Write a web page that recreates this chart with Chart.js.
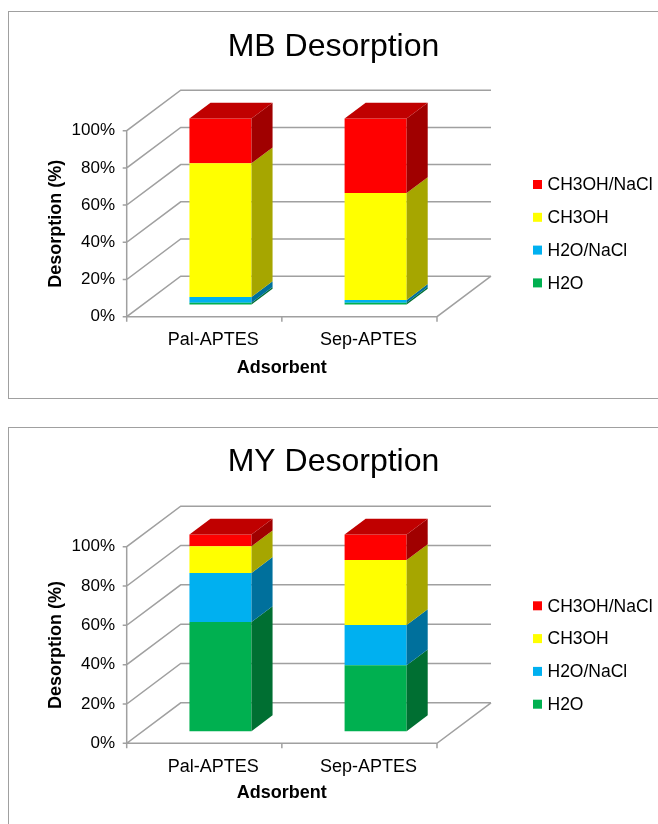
<!DOCTYPE html>
<html>
<head>
<meta charset="utf-8">
<script src="https://cdn.jsdelivr.net/npm/chart.js@4.4.1/dist/chart.umd.min.js"></script>
<style>
  html, body { margin: 0; padding: 0; background: #fff; width: 658px; height: 824px; overflow: hidden; position: relative; }
  .frame { position: absolute; left: 8px; width: 700px; border: 1.5px solid #a0a0a0; box-sizing: border-box; }
  #frame1 { top: 11px; height: 388px; }
  #frame2 { top: 427px; height: 420px; }
  canvas { position: absolute; left: 0; }
  #mb { top: 0; }
  #my { top: 410px; }
</style>
</head>
<body>
<div class="frame" id="frame1"></div>
<div class="frame" id="frame2"></div>
<canvas id="mb" width="658" height="400"></canvas>
<canvas id="my" width="658" height="414"></canvas>
<script>
// ---- data -------------------------------------------------------------
const categories = ['Pal-APTES', 'Sep-APTES'];
const seriesNames = ['H2O', 'H2O/NaCl', 'CH3OH', 'CH3OH/NaCl'];
const yTicks = [0, 20, 40, 60, 80, 100];

// MB desorption share per eluent (%), bottom segment first
const mbH2O = [1, 1];
const mbH2ONaCl = [3, 1.5];
const mbCH3OH = [72, 57.5];
const mbCH3OHNaCl = [24, 40];

// MY desorption share per eluent (%)
const myH2O = [55.5, 33.5];
const myH2ONaCl = [25, 20.5];
const myCH3OH = [13.5, 33];
const myCH3OHNaCl = [6, 13];

// ---- styling ----------------------------------------------------------
const FONT = "'Liberation Sans', Arial, Helvetica, sans-serif";
const faceColors = ['#00B050', '#00B0F0', '#FFFF00', '#FF0000'];
const sideColors = ['#006F32', '#00709C', '#A6A600', '#A00000'];
const capColor = '#C00000';
const gridColor = '#a0a0a0';

// oblique depth of the plot box and of the bar prisms
const WALL_DX = 54, WALL_DY = 40.5;
const BAR_FRONT = 0.3, BAR_DEPTH = 0.39;

Chart.defaults.font.family = FONT;
Chart.defaults.color = '#000';

// walls, floor and axis lines, then prism sides after the bar fronts
const depthPlugin = {
  id: 'depthBox',
  beforeDatasetsDraw(chart) {
    const { ctx, chartArea: a, scales: { y } } = chart;
    ctx.save();
    ctx.strokeStyle = gridColor;
    ctx.lineWidth = 1.5;
    ctx.beginPath();
    y.ticks.forEach(t => {
      const py = y.getPixelForValue(t.value);
      ctx.moveTo(a.left - 4, py);
      ctx.lineTo(a.left, py);
      ctx.lineTo(a.left + WALL_DX, py - WALL_DY);
      ctx.lineTo(a.right + WALL_DX, py - WALL_DY);
    });
    ctx.moveTo(a.left, y.getPixelForValue(yTicks[yTicks.length - 1]));
    ctx.lineTo(a.left, a.bottom + 5);
    ctx.moveTo(a.left, a.bottom);
    ctx.lineTo(a.right, a.bottom);
    ctx.lineTo(a.right + WALL_DX, a.bottom - WALL_DY);
    const n = categories.length;
    for (let k = 1; k <= n; k++) {
      const px = a.left + (a.right - a.left) * k / n;
      ctx.moveTo(px, a.bottom);
      ctx.lineTo(px, a.bottom + 5);
    }
    ctx.stroke();
    ctx.restore();

    // bar fronts sit part-way into the box
    ctx.save();
    ctx.translate(WALL_DX * BAR_FRONT, -WALL_DY * BAR_FRONT);
  },
  afterDatasetsDraw(chart) {
    const { ctx } = chart;
    const bdx = WALL_DX * BAR_DEPTH, bdy = WALL_DY * BAR_DEPTH;
    const last = chart.data.datasets.length - 1;
    chart.data.datasets.forEach((ds, d) => {
      const meta = chart.getDatasetMeta(d);
      meta.data.forEach(bar => {
        const { x, y, base, width } = bar.getProps(['x', 'y', 'base', 'width'], true);
        const l = x - width / 2, r = x + width / 2;
        const top = Math.min(y, base), bottom = Math.max(y, base);
        if (bottom - top <= 0) return;
        ctx.fillStyle = sideColors[d];
        ctx.beginPath();
        ctx.moveTo(r, top);
        ctx.lineTo(r + bdx, top - bdy);
        ctx.lineTo(r + bdx, bottom - bdy);
        ctx.lineTo(r, bottom);
        ctx.closePath();
        ctx.fill();
        if (d === last) {
          ctx.fillStyle = capColor;
          ctx.beginPath();
          ctx.moveTo(l, top);
          ctx.lineTo(l + bdx, top - bdy);
          ctx.lineTo(r + bdx, top - bdy);
          ctx.lineTo(r, top);
          ctx.closePath();
          ctx.fill();
        }
      });
    });
    ctx.restore();
  },
  afterDraw(chart) {
    // legend, top series first
    const { ctx, chartArea: a } = chart;
    const items = chart.data.datasets.map(ds => ({ label: ds.label, color: ds.backgroundColor })).reverse();
    const mid = (a.top + a.bottom) / 2 + 10;
    const step = 32.8;
    ctx.save();
    ctx.font = '17.5px ' + FONT;
    ctx.textBaseline = 'middle';
    ctx.textAlign = 'left';
    items.forEach((it, k) => {
      const cy = mid + (k - (items.length - 1) / 2) * step;
      ctx.fillStyle = it.color;
      ctx.fillRect(a.right + 96, cy - 4.5, 9, 9);
      ctx.fillStyle = '#000';
      ctx.fillText(it.label, a.right + 110.5, cy + 1);
    });
    ctx.restore();
  }
};

function makeChart(id, titleText, series, lay) {
  return new Chart(document.getElementById(id), {
    type: 'bar',
    data: {
      labels: categories,
      datasets: series.map((vals, i) => ({
        label: seriesNames[i],
        data: vals,
        backgroundColor: faceColors[i],
        borderWidth: 0,
        categoryPercentage: 1,
        barPercentage: 0.4,
        clip: false
      }))
    },
    options: {
      responsive: false,
      animation: false,
      devicePixelRatio: 1,
      layout: { padding: { left: 9, right: 0, top: 0, bottom: 0 } },
      plugins: {
        legend: { display: false },
        tooltip: { enabled: false },
        title: {
          display: true,
          text: titleText,
          color: '#000',
          font: { size: 32, weight: 'normal' },
          padding: { top: lay.titleTop, bottom: lay.titleBottom }
        }
      },
      scales: {
        x: {
          stacked: true,
          grid: { display: false, drawTicks: false },
          border: { display: false },
          ticks: { font: { size: 18 }, padding: lay.xTickPad, labelOffset: 9 },
          title: { display: true, text: 'Adsorbent', font: { size: 18, weight: 'bold' }, padding: { top: 0, bottom: lay.xTitlePad } },
          afterFit: s => { s.height = lay.xAxisHeight; }
        },
        y: {
          stacked: true,
          min: 0,
          max: 100,
          grid: { display: false, drawTicks: false },
          border: { display: false },
          afterBuildTicks: s => { s.ticks = yTicks.map(v => ({ value: v })); },
          ticks: { font: { size: 17 }, padding: 11.7, callback: v => v + '%' },
          title: { display: true, text: 'Desorption (%)', font: { size: 18, weight: 'bold' }, padding: { top: 36.7, bottom: 0 } },
          afterFit: s => { s.width = 117.7; }
        },
        yRight: {
          type: 'linear',
          position: 'right',
          display: true,
          grid: { display: false, drawTicks: false },
          border: { display: false },
          ticks: { display: false },
          afterFit: s => { s.width = 221; }
        }
      }
    },
    plugins: [depthPlugin]
  });
}

makeChart('mb', 'MB Desorption', [mbH2O, mbH2ONaCl, mbCH3OH, mbCH3OHNaCl],
  { titleTop: 27.5, titleBottom: 64.8, xAxisHeight: 83.3, xTickPad: 12.5, xTitlePad: 20.9 });
makeChart('my', 'MY Desorption', [myH2O, myH2ONaCl, myCH3OH, myCH3OHNaCl],
  { titleTop: 32.5, titleBottom: 65.8, xAxisHeight: 80.7, xTickPad: 12.6, xTitlePad: 20.2 });
</script>
</body>
</html>
